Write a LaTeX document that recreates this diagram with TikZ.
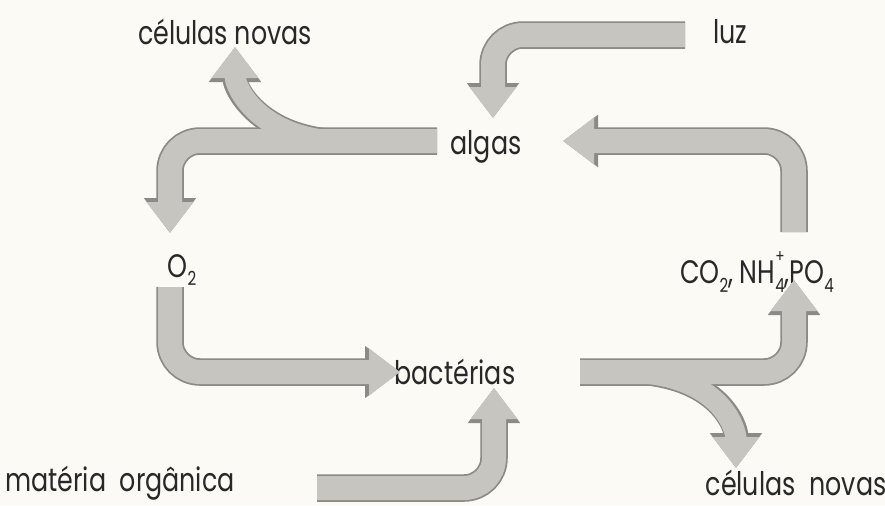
\documentclass[tikz,border=0pt]{standalone}
\usepackage{fontspec}
\setmainfont{Poppins}[FakeStretch=0.78]
\usepackage{tikz}
\usetikzlibrary{arrows.meta,calc}
\definecolor{papel}{RGB}{252,250,244}
\definecolor{clara}{RGB}{198,197,192}
\definecolor{escura}{RGB}{138,138,134}
\definecolor{tinta}{RGB}{40,40,40}
\newcommand{\ind}[1]{\raisebox{-0.5ex}{\fontsize{11}{11}\selectfont #1}}
\newcommand{\expo}[1]{\raisebox{1.15ex}{\fontsize{10}{10}\selectfont #1}}

\begin{document}
\begin{tikzpicture}[x=0.02cm,y=-0.02cm,
rotulo/.style={text=tinta,font=\fontsize{18.5}{20}\selectfont,inner sep=1pt},
faixa/.style={draw=\cor,line width=0.48cm+\mais cm,rounded corners=0.6cm,-{Triangle[width=\pw cm,length=\pl cm]}},
ramo/.style={draw=\cor,line width=0.42cm+\mais cm,-{Triangle[width=\pw cm,length=\pl cm]}}
]
\fill[papel] (0,0) rectangle (885,505);
\useasboundingbox (0,0) rectangle (885,505);

\node[rotulo] (novasA) at (225,32) {células novas};
\node[rotulo] (luz) at (730,32) {luz};
\node[rotulo] (algas) at (486,147) {algas};
\node[rotulo] (o2) at (182,270) {O\ind{2}};
\node[rotulo] (nutr) at (757,272) {CO\ind{2}, NH\rlap{\expo{+}}\ind{4},PO\ind{4}};
\node[rotulo] (bact) at (455,372) {bactérias};
\node[rotulo] (mat) at (120,483) {matéria\ \ orgânica};
\node[rotulo] (novasB) at (796,483) {células\ \ novas};

\coordinate (luzIn) at ($(luz)+(-45,3)$);
\coordinate (algasTop) at ($(algas)+(7,-29)$);
\coordinate (algasDir) at ($(algas)+(77,-6)$);
\coordinate (algasEsq) at ($(algas)+(-49,-6)$);
\coordinate (nutrBase) at ($(nutr)+(37,-40)$);
\coordinate (nutrTopo) at ($(nutr)+(37,8)$);
\coordinate (o2Topo) at ($(o2)+(-12,-37)$);
\coordinate (o2Base) at ($(o2)+(-12,17)$);
\coordinate (bactEsq) at ($(bact)+(-55,0)$);
\coordinate (bactDir) at ($(bact)+(125,0)$);
\coordinate (bactBase) at ($(bact)+(39,16)$);
\coordinate (matDir) at ($(mat)+(197,5)$);
\coordinate (novasAbase) at ($(novasA)+(10,15)$);
\coordinate (novasBtopo) at ($(novasB)+(-60,-15)$);

\foreach \cor/\mais/\pw/\pl in {escura/0.07/1.0/0.7,clara/0/0.9/0.62}{
  \draw[faixa] (luzIn) -| (algasTop);
  \draw[faixa] (nutrBase) |- (algasDir);
  \draw[ramo] ($(algasEsq)+(-105,0)$) .. controls +(-75,-6) and +(0,40) .. (novasAbase);
  \draw[faixa] (algasEsq) -| (o2Topo);
  \draw[faixa] (o2Base) |- (bactEsq);
  \draw[faixa] (matDir) -| (bactBase);
  \draw[ramo] ($(bactDir)+(50,0)$) .. controls +(90,3) and +(0,-40) .. (novasBtopo);
  \draw[faixa] (bactDir) -| (nutrTopo);
}
\end{tikzpicture}
\end{document}
